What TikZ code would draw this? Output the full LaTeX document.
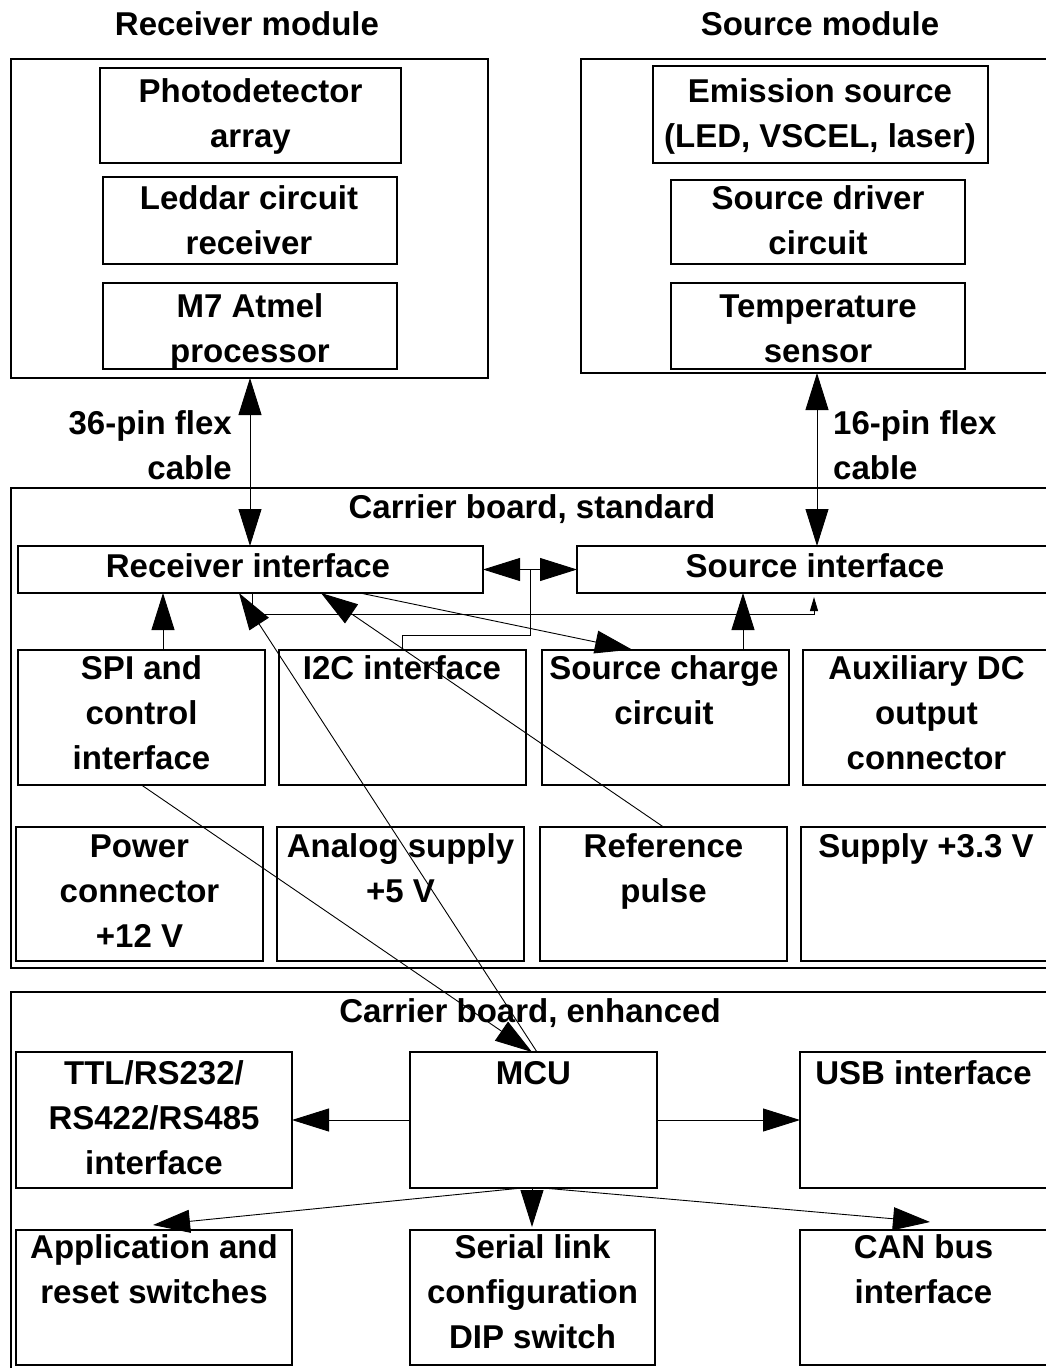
\documentclass[tikz,border=0pt]{standalone}
\usepackage{fontspec}
\setmainfont{Liberation Sans}
\usetikzlibrary{arrows.meta,calc}
\newcommand\mybox[5]{\node[box,minimum width={(#4)-(#2)},minimum height={(#5)-(#3)}] (#1) at (#2,#3) {};}
\begin{document}
\begin{tikzpicture}[x=1pt,y=-1pt,
  box/.style={draw,line width=1.3pt,inner sep=0pt,outer sep=0pt,anchor=north west},
  txt/.style={font=\bfseries\fontsize{33}{45}\selectfont,align=center,inner sep=0pt,anchor=base},
  conn/.style={line width=0.9pt},
  >={Triangle[length=37pt,width=23pt]},
  smalltip/.style={-{Triangle[length=14pt,width=8pt]}}]
\useasboundingbox (0,0) rectangle (1046,1368);
\clip (0,0) rectangle (1046,1368);
% boxes
\mybox{recmod}{11}{59}{488}{378}
\mybox{photo}{100}{68}{401}{163}
\mybox{leddar}{103}{177}{397}{264}
\mybox{mseven}{103}{283}{397}{369}
\mybox{srcmod}{581}{59}{1070}{373}
\mybox{emis}{653}{66}{988}{163}
\mybox{drv}{671}{180}{965}{264}
\mybox{temp}{671}{283}{965}{369}
\mybox{cbstd}{11}{488}{1060}{968}
\mybox{recif}{18}{546}{483}{593}
\mybox{srcif}{577}{546}{1060}{593}
\mybox{spi}{18}{650}{265}{785}
\mybox{itwoc}{279}{650}{526}{785}
\mybox{scc}{542}{650}{789}{785}
\mybox{aux}{803}{650}{1050}{785}
\mybox{pwr}{16}{827}{263}{961}
\mybox{ana}{277}{827}{524}{961}
\mybox{ref}{540}{827}{787}{961}
\mybox{sup}{801}{827}{1048}{961}
\mybox{cbenh}{11}{992}{1060}{1390}
\mybox{ttl}{16}{1052}{292}{1188}
\mybox{mcu}{410}{1052}{657}{1188}
\mybox{usb}{800}{1052}{1047}{1188}
\mybox{app}{16}{1230}{292}{1365}
\mybox{ser}{410}{1230}{655}{1365}
\mybox{can}{800}{1230}{1047}{1365}
% texts (anchor = baseline of the last line)
\node[txt] (t1) at (247,35) {Receiver module};
\node[txt] (t2) at (820,35) {Source module};
\node[txt] (t3) at (250.5,147) {Photodetector\\array};
\node[txt] (t4) at (820,147) {Emission source\\(LED, VSCEL, laser)};
\node[txt] (t5) at (249,254) {Leddar circuit\\receiver};
\node[txt] (t6) at (818,254) {Source driver\\circuit};
\node[txt] (t7) at (250,362) {M7 Atmel\\processor};
\node[txt] (t8) at (818,362) {Temperature\\sensor};
\node[txt,align=right,anchor=base east] (t9) at (232,479) {36-pin flex\\cable};
\node[txt,align=left,anchor=base west] (t10) at (833,479) {16-pin flex\\cable};
\node[txt] (t11) at (532,518) {Carrier board, standard};
\node[txt] (t12) at (248,577) {Receiver interface};
\node[txt] (t13) at (815,577) {Source interface};
\node[txt] (t14) at (141.5,769) {SPI and\\control\\interface};
\node[txt] (t15) at (402,679) {I2C interface};
\node[txt] (t16) at (664,724) {Source charge\\circuit};
\node[txt] (t17) at (926.5,769) {Auxiliary DC\\output\\connector};
\node[txt] (t18) at (139.5,947) {Power\\connector\\+12 V};
\node[txt] (t19) at (400.5,902) {Analog supply\\+5 V};
\node[txt] (t20) at (663.5,902) {Reference\\pulse};
\node[txt] (t21) at (926,857) {Supply +3.3 V};
\node[txt] (t22) at (530,1022) {Carrier board, enhanced};
\node[txt] (t23) at (154,1174) {TTL/RS232/\\RS422/RS485\\interface};
\node[txt] (t24) at (533.5,1084) {MCU};
\node[txt] (t25) at (923.5,1084) {USB interface};
\node[txt] (t26) at (154,1303) {Application and\\reset switches};
\node[txt] (t27) at (532.5,1348) {Serial link\\configuration\\DIP switch};
\node[txt] (t28) at (923.5,1303) {CAN bus\\interface};
% connectors
\draw[conn,<->] (recmod.south -| 250,0) -- (recif.north -| 250,0);
\draw[conn,<->] (srcmod.south -| 817,0) -- (srcif.north -| 817,0);
\coordinate (jn) at ($(recif.east)!0.5!(srcif.west)$);
\draw[conn,->] (jn) -- (recif.east);
\draw[conn,->] (jn) -- (srcif.west);
\draw[conn] (itwoc.north) -- ++(0,-15) -| (jn);
\draw[conn,->] (spi.north -| 163,0) -- (recif.south -| 163,0);
\draw[conn,->] (scc.north -| 743,0) -- (srcif.south -| 743,0);
\draw[conn,smalltip,shorten >=4pt] (recif.south -| 252,0) -- ++(0,21) -| (srcif.south -| 814,0);
\draw[conn,->,shorten >=2pt] (recif.south -| 360,0) -- (scc.north -| 634,0);
\draw[conn,->] (mcu.north -| 537,0) -- (recif.south -| 239,0);
\draw[conn,->] (ref.north) -- (recif.south -| 321,0);
\draw[conn,->] (spi.south) -- (mcu.north -| 532,0);
\draw[conn,->] (mcu.west) -- (ttl.east);
\draw[conn,->] (mcu.east) -- (usb.west);
\draw[conn,->] (mcu.south -| 522,0) -- ($(app.north -| 153,0)+(0,-5)$);
\draw[conn,->,shorten >=3pt] (mcu.south -| 532,0) -- (ser.north -| 532,0);
\draw[conn,->] (mcu.south -| 543,0) -- ($(can.north -| 930,0)+(0,-8)$);
\end{tikzpicture}
\end{document}
